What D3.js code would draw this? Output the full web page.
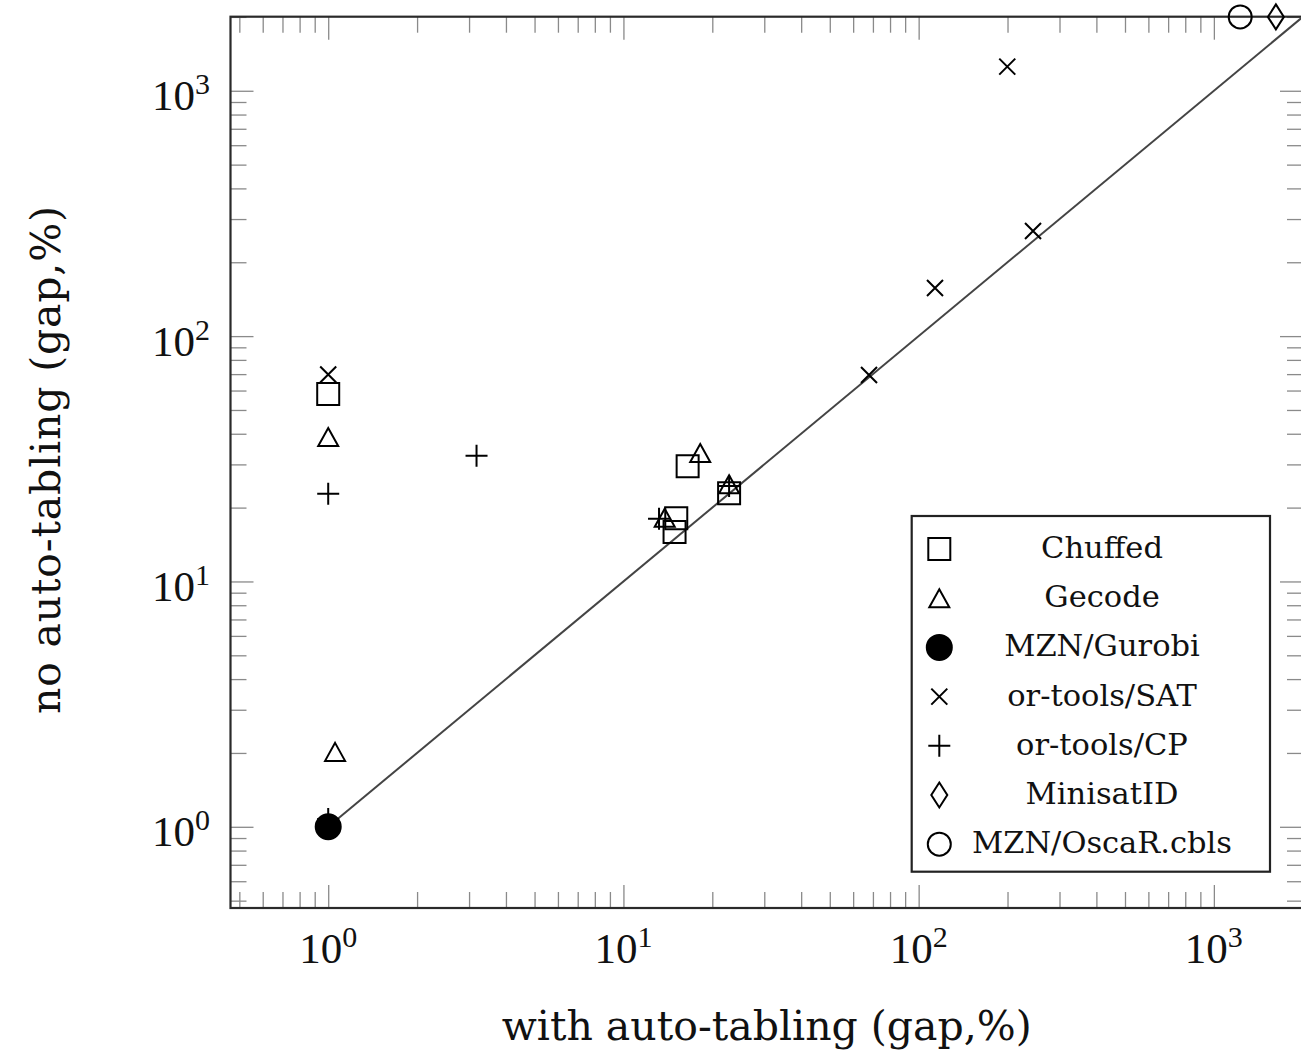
<!DOCTYPE html>
<html>
<head>
<meta charset="utf-8">
<script src="https://cdn.jsdelivr.net/npm/d3@7"></script>
<style>
  body { margin: 0; background: #fff; }
  svg { display: block; }
</style>
</head>
<body>
<div id="chart"></div>
<script>
// solver names, in legend order
var solvers = ["Chuffed", "Gecode", "MZN/Gurobi", "or-tools/SAT", "or-tools/CP", "MinisatID", "MZN/OscaR.cbls"];

// [with auto-tabling, no auto-tabling] gap in %
var chuffed  = [[1, 58.1], [16.5, 29.5], [15.1, 18.1], [14.9, 15.9], [22.8, 22.9]];
var gecode   = [[1, 38.8], [1.055, 2.02], [18.2, 33.4], [22.8, 24.9], [13.8, 18.2]];
var gurobi   = [[1, 1]];
var ortSat   = [[1, 69.7], [199.6, 1254], [244, 268], [113.6, 157], [67.9, 69.4]];
var ortCp    = [[1, 22.8], [3.18, 32.5], [13.2, 18.0], [22.8, 24.5], [1, 1.075]];
var minisat  = [[1622, 2000]];
var oscar    = [[1228, 2000]];

var axisDomain = [0.4667, 2004];
var majorTicks = [1, 10, 100, 1000];
var tickExponents = ["0", "1", "2", "3"];
var diagonal = [1, 2004];

var svgW = 1301, svgH = 1055;
var plotL = 230.5, plotT = 16.7, plotR = 1303, plotB = 908;

var svg = d3.select("#chart").append("svg")
    .attr("width", svgW)
    .attr("height", svgH);

var x = d3.scaleLog().domain(axisDomain).range([plotL, plotR]);
var y = d3.scaleLog().domain(axisDomain).range([plotB, plotT]);

// minor ticks 2..9 of every decade inside the domain
var minorTicks = [];
for (var d = -1; d <= 3; d++) {
    for (var m = 2; m <= 9; m++) {
        var v = m * Math.pow(10, d);
        if (v >= axisDomain[0] && v <= axisDomain[1]) minorTicks.push(v);
    }
}

function drawTicks(axisFn, scale, values, size, transform) {
    svg.append("g")
        .attr("transform", transform)
        .attr("color", "#8a8a8a")
        .call(axisFn(scale).tickValues(values).tickSize(-size).tickFormat(""))
        .call(function(g){ g.select(".domain").remove() })
        .selectAll("line").attr("stroke-width", 1.3);
}

[[minorTicks, 16], [majorTicks, 23]].forEach(function(t){
    drawTicks(d3.axisBottom, x, t[0], t[1], "translate(0," + plotB + ")");
    drawTicks(d3.axisTop, x, t[0], t[1], "translate(0," + plotT + ")");
    drawTicks(d3.axisLeft, y, t[0], t[1], "translate(" + plotL + ",0)");
    drawTicks(d3.axisRight, y, t[0], t[1], "translate(" + plotR + ",0)");
});

// frame
svg.append("rect")
    .attr("x", plotL).attr("y", plotT)
    .attr("width", plotR - plotL).attr("height", plotB - plotT)
    .attr("fill", "none")
    .attr("stroke", "#2a2a2a")
    .attr("stroke-width", 2.2);

// tick labels 10^n
function powerLabel(sel) {
    sel.attr("font-family", "'Liberation Serif', serif")
        .attr("font-size", 43)
        .attr("fill", "#111");
    sel.append("tspan").text("10");
    sel.append("tspan").attr("font-size", 30).attr("dy", -16).text(function(d, i){ return tickExponents[i] });
}

svg.selectAll(".xlabel")
    .data(majorTicks)
    .enter().append("text")
    .attr("class", "xlabel")
    .attr("x", function(d){ return x(d) })
    .attr("y", 963)
    .attr("text-anchor", "middle")
    .call(powerLabel);

svg.selectAll(".ylabel")
    .data(majorTicks)
    .enter().append("text")
    .attr("class", "ylabel")
    .attr("x", 210)
    .attr("y", function(d){ return y(d) + 19.5 })
    .attr("text-anchor", "end")
    .call(powerLabel);

// axis titles
svg.append("text")
    .attr("x", (plotL + plotR) / 2)
    .attr("y", 1040)
    .attr("text-anchor", "middle")
    .attr("font-family", "'DejaVu Serif', serif")
    .attr("font-size", 41)
    .attr("fill", "#111")
    .text("with auto-tabling (gap,%)");

svg.append("text")
    .attr("transform", "translate(60," + 460 + ") rotate(-90)")
    .attr("text-anchor", "middle")
    .attr("font-family", "'DejaVu Serif', serif")
    .attr("font-size", 41)
    .attr("textLength", 508)
    .attr("lengthAdjust", "spacing")
    .attr("fill", "#111")
    .text("no auto-tabling (gap,%)");

// diagonal y = x
var line = d3.line()
    .x(function(d){ return x(d) })
    .y(function(d){ return y(d) });

svg.append("path")
    .datum(diagonal)
    .attr("d", line)
    .attr("fill", "none")
    .attr("stroke", "#444")
    .attr("stroke-width", 2);

// marker shapes
var markers = {
    square:   { d: "M-11,-11h22v22h-22Z", fill: "none" },
    triangle: { d: "M0,-9L10,9L-10,9Z", fill: "none" },
    dot:      { d: "M12.5,0A12.5,12.5 0 1,1 -12.5,0A12.5,12.5 0 1,1 12.5,0Z", fill: "#000" },
    times:    { d: "M-8,-8L8,8M-8,8L8,-8", fill: "none" },
    plus:     { d: "M-11,0H11M0,-11V11", fill: "none" },
    diamond:  { d: "M0,-12.5L8,0L0,12.5L-8,0Z", fill: "none" },
    circle:   { d: "M11.5,0A11.5,11.5 0 1,1 -11.5,0A11.5,11.5 0 1,1 11.5,0Z", fill: "none" }
};
var series = [
    [chuffed, markers.square],
    [gecode, markers.triangle],
    [gurobi, markers.dot],
    [ortSat, markers.times],
    [ortCp, markers.plus],
    [minisat, markers.diamond],
    [oscar, markers.circle]
];

series.forEach(function(s){
    svg.append("g").selectAll("path")
        .data(s[0])
        .enter().append("path")
        .attr("transform", function(d){ return "translate(" + x(d[0]) + "," + y(d[1]) + ")" })
        .attr("d", s[1].d)
        .attr("fill", s[1].fill)
        .attr("stroke", "#000")
        .attr("stroke-width", 2);
});

// legend
var legend = svg.append("g");
legend.append("rect")
    .attr("x", 911.7).attr("y", 516)
    .attr("width", 358.3).attr("height", 355.7)
    .attr("fill", "#fff")
    .attr("stroke", "#222")
    .attr("stroke-width", 2.2);

var rows = legend.selectAll(".entry")
    .data(solvers)
    .enter().append("g")
    .attr("class", "entry")
    .attr("transform", function(d, i){ return "translate(0," + (549 + 49.2 * i) + ")" });

rows.append("path")
    .attr("transform", "translate(939.3,0)")
    .attr("d", function(d, i){ return series[i][1].d })
    .attr("fill", function(d, i){ return series[i][1].fill })
    .attr("stroke", "#000")
    .attr("stroke-width", 2);

rows.append("text")
    .attr("x", 1102)
    .attr("y", 9)
    .attr("text-anchor", "middle")
    .attr("font-family", "'DejaVu Serif', serif")
    .attr("font-size", 30.5)
    .attr("fill", "#111")
    .text(function(d){ return d });
</script>
</body>
</html>
